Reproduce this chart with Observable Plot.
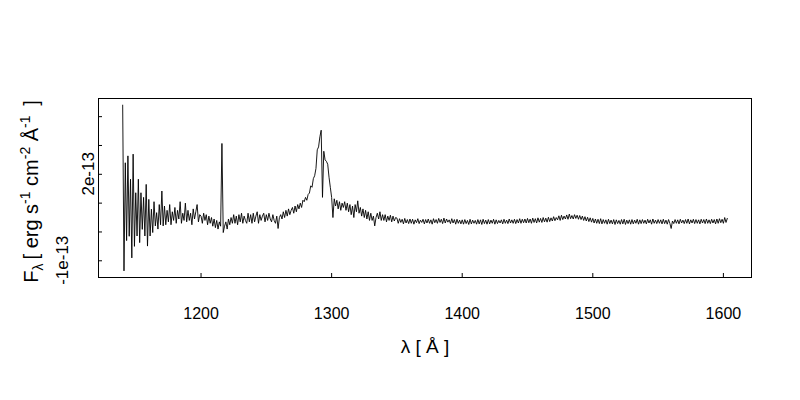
<!DOCTYPE html>
<html>
<head>
<meta charset="utf-8">
<script src="https://cdn.jsdelivr.net/npm/d3@7"></script>
<script src="https://cdn.jsdelivr.net/npm/@observablehq/plot@0.6"></script>
<style>
  body { margin: 0; background: #fff; }
  #chart svg { display: block; }
</style>
</head>
<body>
<div id="chart"></div>
<script>
// ---- data ----
const lambdaStart = 1140;   // Å, first sample
const lambdaStep = 1;       // Å per sample
// flux in units of 1e-13 erg s^-1 cm^-2 Å^-1
const flux = [
  4.40, -1.35, 2.40, -0.30, 2.64, -0.15, 1.83, -0.90, 2.70, -0.50,
  1.36, -0.14, 1.83, -0.37, 1.36, 0.09, 1.20, -0.14, 1.65, -0.49,
  1.13, -0.14, 0.79, -0.02, 1.05, 0.21, 0.67, 0.10, 0.95, 0.25,
  1.42, 0.21, 0.90, 0.25, 0.75, 0.35, 0.95, 0.25, 0.70, 0.40,
  0.85, 0.30, 0.75, 0.45, 1.05, 0.30, 0.65, 0.40, 1.00, 0.35,
  0.75, 0.40, 0.65, 0.25, 0.80, 0.45, 0.70, 0.95, 0.35, 0.60,
  0.55, 0.30, 0.65, 0.40, 0.60, 0.25, 0.55, 0.30, 0.50, 0.20,
  0.45, 0.15, 0.40, 0.10, 0.35, 0.20, 3.07, -0.02, 0.20, 0.35,
  0.10, 0.45, 0.25, 0.50, 0.30, 0.60, 0.30, 0.55, 0.25, 0.60,
  0.35, 0.65, 0.30, 0.55, 0.40, 0.30, 0.65, 0.35, 0.60, 0.30,
  0.65, 0.35, 0.55, 0.70, 0.30, 0.60, 0.40, 0.55, 0.65, 0.35,
  0.60, 0.40, 0.65, 0.45, 0.35, 0.60, 0.40, 0.30, 0.55, 0.12,
  0.50, 0.60, 0.45, 0.70, 0.50, 0.75, 0.55, 0.80, 0.60, 0.75,
  0.85, 0.65, 0.90, 0.70, 0.95, 0.80, 1.00, 0.85, 1.10, 1.05,
  1.20, 1.10, 1.30, 1.35, 1.60, 1.55, 1.85, 1.95, 2.20, 2.85,
  2.95, 3.30, 3.53, 1.20, 2.80, 2.50, 2.45, 2.35, 1.90, 1.55,
  1.20, 0.50, 1.15, 0.90, 1.10, 0.80, 1.05, 0.75, 1.00, 0.85,
  1.05, 0.75, 1.00, 0.70, 0.95, 0.60, 0.90, 0.50, 0.95, 0.70,
  1.08, 0.65, 0.85, 0.55, 0.80, 0.50, 0.75, 0.45, 0.70, 0.40,
  0.65, 0.40, 0.55, 0.21, 0.50, 0.65, 0.45, 0.70, 0.40, 0.60,
  0.40, 0.60, 0.35, 0.55, 0.40, 0.58, 0.35, 0.55, 0.38, 0.50,
  0.48, 0.30, 0.46, 0.33, 0.44, 0.28, 0.47, 0.31, 0.43, 0.29,
  0.45, 0.30, 0.44, 0.27, 0.42, 0.32, 0.46, 0.29, 0.41, 0.33,
  0.44, 0.28, 0.43, 0.31, 0.45, 0.30, 0.42, 0.27, 0.46, 0.32,
  0.43, 0.30, 0.47, 0.33, 0.44, 0.29, 0.48, 0.31, 0.45, 0.34,
  0.42, 0.29, 0.46, 0.31, 0.43, 0.27, 0.44, 0.30, 0.41, 0.28,
  0.42, 0.27, 0.43, 0.29, 0.40, 0.26, 0.44, 0.28, 0.41, 0.30,
  0.40, 0.27, 0.43, 0.28, 0.42, 0.26, 0.44, 0.29, 0.41, 0.27,
  0.43, 0.28, 0.41, 0.30, 0.44, 0.27, 0.42, 0.29, 0.40, 0.31,
  0.42, 0.28, 0.44, 0.30, 0.41, 0.29, 0.45, 0.31, 0.42, 0.30,
  0.44, 0.29, 0.43, 0.31, 0.46, 0.30, 0.44, 0.32, 0.45, 0.31,
  0.47, 0.32, 0.45, 0.30, 0.48, 0.33, 0.46, 0.31, 0.49, 0.34,
  0.47, 0.33, 0.50, 0.35, 0.48, 0.34, 0.51, 0.36, 0.49, 0.38,
  0.53, 0.39, 0.50, 0.42, 0.56, 0.40, 0.58, 0.43, 0.55, 0.45,
  0.59, 0.44, 0.62, 0.46, 0.57, 0.45, 0.60, 0.47, 0.58, 0.44,
  0.57, 0.43, 0.55, 0.40, 0.53, 0.38, 0.51, 0.36, 0.49, 0.34,
  0.47, 0.31, 0.45, 0.30, 0.44, 0.29, 0.46, 0.28, 0.43, 0.30,
  0.42, 0.27, 0.44, 0.29, 0.41, 0.28, 0.43, 0.26, 0.42, 0.29,
  0.40, 0.27, 0.43, 0.28, 0.44, 0.26, 0.41, 0.29, 0.42, 0.27,
  0.43, 0.28, 0.41, 0.30, 0.44, 0.27, 0.42, 0.29, 0.43, 0.30,
  0.41, 0.28, 0.44, 0.31, 0.42, 0.27, 0.45, 0.30, 0.41, 0.29,
  0.43, 0.30, 0.42, 0.28, 0.44, 0.29, 0.41, 0.27, 0.43, 0.30,
  0.12, 0.38, 0.29, 0.43, 0.30, 0.42, 0.28, 0.44, 0.31, 0.41,
  0.29, 0.43, 0.30, 0.45, 0.28, 0.42, 0.31, 0.44, 0.29, 0.43,
  0.30, 0.42, 0.28, 0.44, 0.31, 0.43, 0.29, 0.45, 0.30, 0.42,
  0.29, 0.44, 0.31, 0.43, 0.28, 0.45, 0.30, 0.46, 0.32, 0.44,
  0.30, 0.50, 0.33, 0.47
];
const fluxUnit = 1e-13;

const xTicks = [1200, 1300, 1400, 1500, 1600];
const yTicks = [-1e-13, 0, 1e-13, 2e-13, 3e-13, 4e-13];
const yLabelOuter = [{ value: -1e-13, label: "-1e-13" }];
const yLabelInner = [{ value: 2e-13, label: "2e-13" }];
const xTitle = "λ [ Å ]";

// ---- layout ----
const W = 800, H = 400;
const mL = 98, mR = 49, mT = 98, mB = 123;
const innerW = W - mL - mR, innerH = H - mT - mB;
const font = "'Liberation Sans', Arial, Helvetica, sans-serif";

const spectrum = flux.map((f, i) => ({ lambda: lambdaStart + i * lambdaStep, F: f * fluxUnit }));
const pad4 = ([a, b]) => { const r = b - a; return [a - 0.04 * r, b + 0.04 * r]; };
const xDomain = pad4(d3.extent(spectrum, d => d.lambda));
const yDomain = pad4(d3.extent(spectrum, d => d.F));

const chart = Plot.plot({
  width: W, height: H,
  marginLeft: mL, marginRight: mR, marginTop: mT, marginBottom: mB,
  style: { fontFamily: font, fontSize: "16px", background: "#fff", color: "#000" },
  x: { domain: xDomain, axis: null },
  y: { domain: yDomain, axis: null },
  marks: [
    Plot.line(spectrum, { x: "lambda", y: "F", stroke: "#000", strokeWidth: 0.9 }),
    Plot.frame({ stroke: "#000", strokeWidth: 1 }),
    Plot.tickX(xTicks, { x: d => d, insetTop: innerH - 4, stroke: "#000" }),
    Plot.tickY(yTicks, { y: d => d, insetRight: innerW - 4, stroke: "#000" }),
    Plot.text(xTicks, { x: d => d, text: d => String(d), frameAnchor: "bottom", dy: 36, lineAnchor: "middle", fontSize: 16, fill: "#000" }),
    Plot.text([xTitle], { text: d => d, frameAnchor: "bottom", dy: 69, lineAnchor: "middle", fontSize: 19, fill: "#000" })
  ]
});

const svg = d3.select(chart);
const yScale = chart.scale("y");

// y tick labels (rotated, R style), placed through the plot's y scale
function yLabels(rows, cx) {
  rows.forEach(r => {
    svg.append("text")
      .attr("transform", `translate(${cx},${yScale.apply(r.value)}) rotate(-90)`)
      .attr("text-anchor", "middle")
      .attr("dy", "0.35em")
      .attr("font-family", font)
      .attr("font-size", 17)
      .attr("fill", "#000")
      .text(r.label);
  });
}
yLabels(yLabelOuter, 62);
yLabels(yLabelInner, 88);

// y axis title with sub/superscripts
const t = svg.append("text")
  .attr("transform", `translate(38,${mT + innerH / 2 + 4}) rotate(-90)`)
  .attr("text-anchor", "middle")
  .attr("dy", "0.35em")
  .attr("font-family", font)
  .attr("font-size", 20)
  .attr("fill", "#000");
const parts = [
  { s: "F", d: 0 }, { s: "λ", d: 5, small: true }, { s: "\u2009[ erg s", d: -5 },
  { s: "-1", d: -8, small: true }, { s: " cm", d: 8 },
  { s: "-2", d: -8, small: true }, { s: " Å", d: 8 },
  { s: "-1", d: -8, small: true }, { s: "\u2009 ]", d: 8 }
];
parts.forEach(p => {
  const ts = t.append("tspan").attr("dy", p.d).text(p.s);
  if (p.small) ts.attr("font-size", 14);
});

document.getElementById("chart").appendChild(chart);
</script>
</body>
</html>
